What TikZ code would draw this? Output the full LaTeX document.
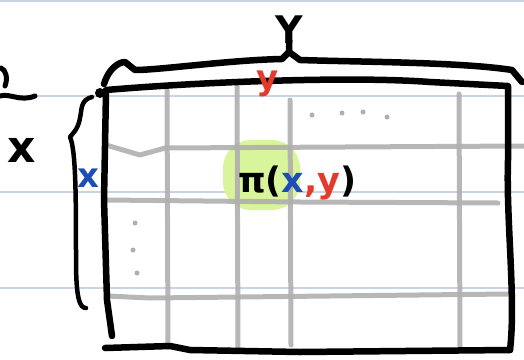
\documentclass[tikz,border=0pt]{standalone}
\usepackage{fontspec}
\setmainfont{DejaVu Sans}
\definecolor{penred}{HTML}{E5392B}
\definecolor{penblue}{HTML}{1B4FB5}
\definecolor{marker}{HTML}{D8F59B}
\definecolor{pencil}{HTML}{AFAFAF}
\definecolor{ruled}{HTML}{C8D3E4}

\tikzset{
  ink/.style={line width=6.5pt, black},
  gridline/.style={line width=5pt, pencil, opacity=0.9},
  hand/.style={font=\bfseries\fontsize{38}{38}\selectfont, inner sep=0pt}
}

\begin{document}
\begin{tikzpicture}[x=1pt, y=-1pt, line cap=round, line join=round]
\useasboundingbox (0,0) rectangle (524,359);

% linky papiru
\foreach \ly in {1,96,192,288}
  \draw[ruled, line width=1.5pt] (0,\ly) -- (524,\ly);

% zvyrazneni pi(x,y)
\fill[marker, rounded corners=28pt] (223,140) rectangle (300,210);

% tuzkova mrizka
\draw[gridline] (167,90) -- (168,347);
\draw[gridline] (237,86) -- (238,350);
\draw[gridline] (290,100) -- (291,345);
\draw[gridline] (459,94) -- (460,348);
\draw[gridline] (106,145) -- (140,155) -- (165,148) -- (524,146);
\draw[gridline] (106,200) -- (300,202) -- (498,203);
\draw[gridline] (107,296) -- (150,298) -- (508,294);

% tecky
\foreach \px/\py in {312/115, 342/113, 363/112, 387/117}
  \fill[pencil] (\px,\py) circle (2.5pt);
\foreach \px/\py in {135/223, 133/250, 137/273}
  \fill[pencil] (\px,\py) circle (2.5pt);

% matice
\draw[ink] (106,92) -- (104,200) -- (107,300) -- (112,336);
\draw[ink] (106,90) .. controls (200,82) and (350,76) .. (430,82) -- (508,86)
  -- (508,160) .. controls (506,220) and (516,300) .. (510,350);
\draw[ink] (105,348) -- (170,346) -- (190,350) -- (300,352) -- (510,350);
\fill (100,93) circle (5pt);

% zavorka nad sloupci
\draw[ink] (104,84) .. controls (108,70) and (118,62) .. (125,62)
  -- (135,70) .. controls (160,70) and (230,60) .. (282,59) -- (289,52) -- (289,40);
\draw[ink] (289,52) -- (300,60) .. controls (360,62) and (460,62) .. (512,70)
  -- (522,82);

% zavorka u radku
\draw[ink, line width=4.5pt] (92,97) .. controls (80,100) and (82,110) .. (80,118)
  .. controls (78,130) and (72,134) .. (70,137)
  .. controls (76,150) and (76,200) .. (76,260) .. controls (76,300) and (80,308) .. (86,308);

% zbytek vlevo nahore
\draw[ink, line width=5pt] (1,68) .. controls (6,70) and (8,78) .. (5,86);
\draw[ink, line width=5pt] (0,96) .. controls (10,93) and (20,102) .. (35,96);

% popisky
\node[hand, anchor=south] (labY) at (289,44) {Y};
\node[hand, font=\bfseries\fontsize{44}{44}\selectfont] (labX) at (22,150) {x};
\node[hand, penred, font=\bfseries\fontsize{34}{34}\selectfont] (coly) at (268,84) {y};
\node[hand, penblue, font=\bfseries\fontsize{34}{34}\selectfont] (rowx) at (88,178) {x};
\node[hand, anchor=base west, font=\bfseries\fontsize{35}{35}\selectfont] (elem) at (238,192)
  {π(\textcolor{penblue}{x}\textcolor{penred}{,y})};
\end{tikzpicture}
\end{document}
